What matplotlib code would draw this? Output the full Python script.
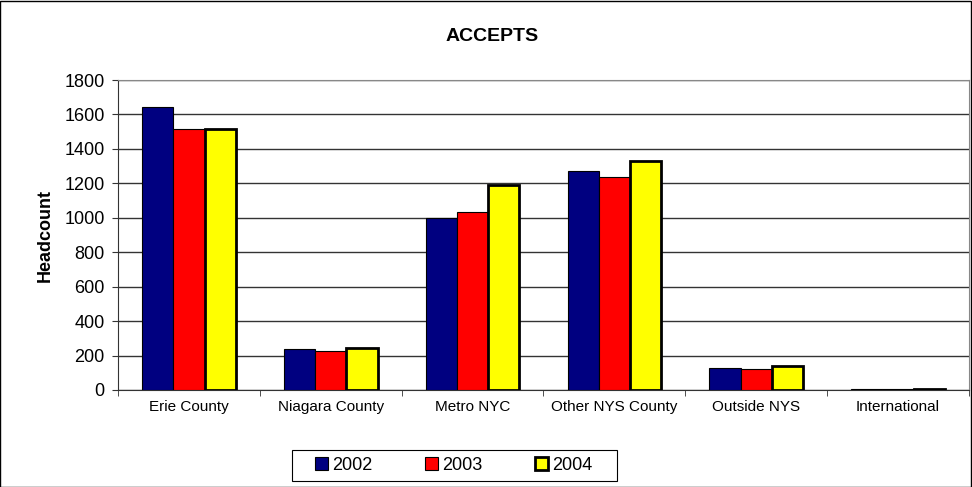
import matplotlib.pyplot as plt
import numpy as np
from matplotlib.patches import Rectangle

plt.rcParams['font.family'] = ['Liberation Sans', 'DejaVu Sans']

categories = ['Erie County', 'Niagara County', 'Metro NYC', 'Other NYS County',
              'Outside NYS', 'International']
years = ['2002', '2003', '2004']
accepts_2002 = [1645, 236, 1001, 1272, 126, 3]
accepts_2003 = [1514, 225, 1032, 1235, 120, 3]
accepts_2004 = [1516, 242, 1189, 1328, 140, 8]

colors = ['#000080', '#FF0000', '#FFFF00']
edge_widths = [0.8, 0.8, 2.0]

fig = plt.figure(figsize=(9.72, 4.87), dpi=100)
ax = fig.add_axes([0.1214, 0.1992, 0.8755, 0.6365])

x = np.arange(len(categories))
w = 0.22
for i, vals in enumerate([accepts_2002, accepts_2003, accepts_2004]):
    ax.bar(x + (i - 1) * w, vals, w, color=colors[i], edgecolor='black',
           linewidth=edge_widths[i], label=years[i], zorder=3)

ax.set_xlim(-0.5, len(categories) - 0.5)
ax.set_ylim(0, 1800)
ax.set_yticks(np.arange(0, 1801, 200))
ax.yaxis.grid(True, color='#333333', linewidth=1, zorder=0)
ax.set_axisbelow(True)

ax.set_xticks(x)
ax.set_xticklabels(categories, fontsize=11)
ax.tick_params(axis='x', length=0, pad=7)
ax.set_xticks(np.arange(-0.5, len(categories), 1), minor=True)
ax.tick_params(axis='x', which='minor', length=4.5, direction='out', color='#333333')
ax.tick_params(axis='y', labelsize=13, length=4.5, pad=5, direction='out', color='#333333')

for side in ['top', 'right']:
    ax.spines[side].set_color('#888888')
ax.spines['left'].set_color('#333333')
ax.spines['bottom'].set_color('#333333')

ax.set_ylabel('Headcount', fontsize=13, fontweight='bold', labelpad=8)
fig.text(0.506, 0.925, 'ACCEPTS', ha='center', va='center', fontsize=14, fontweight='bold')

# legend entries without their own frame; the box is drawn separately
leg = fig.legend(loc='center', bbox_to_anchor=(0.467, 0.044), ncol=3, fontsize=13,
                 frameon=False, handlelength=0.7, handleheight=0.7,
                 handletextpad=0.25, columnspacing=2.9, borderpad=0.3, borderaxespad=0)

fig.patches.append(Rectangle((292 / 972, 1 - 481 / 487), 325 / 972, 31 / 487,
                             transform=fig.transFigure, fill=False,
                             edgecolor='black', linewidth=0.8))
fig.patches.append(Rectangle((0.0005, 0.001), 0.998, 0.997, transform=fig.transFigure,
                             fill=False, edgecolor='black', linewidth=1))

fig.savefig('out.png', dpi=100)
